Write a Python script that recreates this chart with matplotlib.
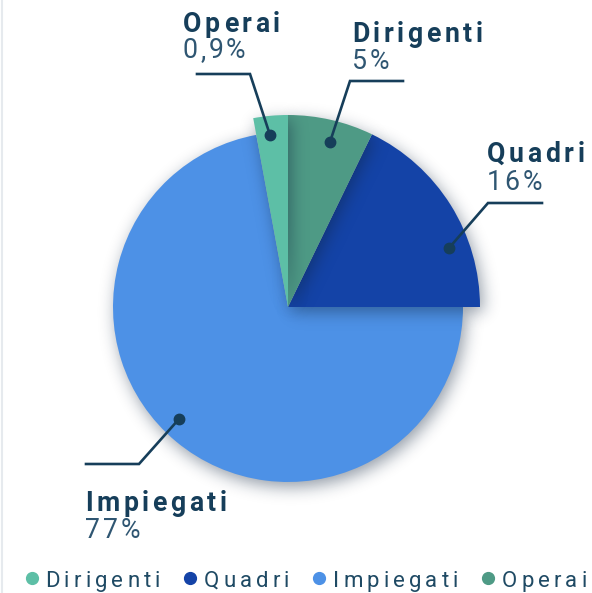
import matplotlib
matplotlib.use("Agg")
import numpy as np
import matplotlib.pyplot as plt
from matplotlib.font_manager import FontProperties, findfont, get_font

# Dati (etichette e quote come scritte nel grafico)
categorie = ["Dirigenti", "Quadri", "Impiegati", "Operai"]
etichette_pct = ["5%", "16%", "77%", "0,9%"]
# ampiezza delle fette (in %, senso orario dall'alto)
quota_fetta = [7.2, 17.8, 72.1, 2.9]

colori_fette = ["#4e9a85", "#1443a7", "#4d91e6", "#5dbfa6"]
colori_legenda = ["#5dbfa6", "#1443a7", "#4d91e6", "#4e9a85"]
raggi = [192, 192, 175, 192]

W, H, DPI = 592, 593, 100
FONT = "Roboto"
NAVY = "#163e5a"
TXT_PCT = "#2f5672"
TXT_LEG = "#1f4a64"

fig = plt.figure(figsize=(W / DPI, H / DPI), dpi=DPI)
fig.patch.set_facecolor("white")
ax = fig.add_axes([0, 0, 1, 1])


def iy(y):
    """coordinate y dell'immagine (dall'alto) -> coordinate dati (dal basso)"""
    return H - y


def testo_spaziato(x, y, s, size, weight, color, track):
    """matplotlib non ha il letter-spacing: metto un carattere alla volta"""
    prop = FontProperties(family=FONT, weight=weight, size=size)
    font = get_font(findfont(prop))
    font.set_size(size, DPI)
    pen = x
    for ch in s:
        g = font.load_char(ord(ch))
        if ch != " ":
            ax.text(pen, y, ch, fontproperties=prop,
                    color=color, ha="left", va="baseline", zorder=30)
        pen += g.linearHoriAdvance / 65536 + track
    return pen - track


# Torta
centro = (288, iy(307))
wedges, _ = ax.pie(quota_fetta, colors=colori_fette, startangle=90,
                   counterclock=False, center=centro, radius=192,
                   wedgeprops=dict(linewidth=0))
for w, r in zip(wedges, raggi):
    w.set_radius(r)

# Ombre sfumate: ogni fetta proietta un'ombra su quello che sta sotto
yy, xx = np.mgrid[0:H, 0:W] + 0.5


def maschera(w, dx, dy):
    cx, cy = w.center
    px = xx - cx - dx
    py = yy - cy - dy
    ang = np.degrees(np.arctan2(py, px)) % 360
    dentro = np.hypot(px, py) <= w.r
    return (dentro & (((ang - w.theta1) % 360) <= (w.theta2 - w.theta1))).astype(float)


def sfoca(a, s):
    n = int(3 * s)
    k = np.exp(-0.5 * (np.arange(-n, n + 1) / s) ** 2)
    k /= k.sum()
    a = np.apply_along_axis(lambda r: np.convolve(r, k, mode="same"), 0, a)
    return np.apply_along_axis(lambda r: np.convolve(r, k, mode="same"), 1, a)


ordine = [2, 1, 0, 3]  # Impiegati sotto, poi Quadri, Dirigenti, Operai
for livello, i in enumerate(ordine):
    ombra = sfoca(maschera(wedges[i], 3, -5), 8)
    rgba = np.zeros((H, W, 4))
    rgba[..., 0], rgba[..., 1], rgba[..., 2] = 0.06, 0.14, 0.24
    rgba[..., 3] = 0.45 * ombra
    ax.imshow(rgba, extent=(0, W, 0, H), origin="lower", aspect="auto",
              interpolation="bilinear", zorder=2 + 2 * livello)
    wedges[i].set_zorder(3 + 2 * livello)

# Etichette con linee di richiamo (posizioni in pixel dell'immagine)
richiami = {
    "Operai": dict(x=183, nome=32, pct=58, linea=[(197, 74), (250, 74), (270, 135)]),
    "Dirigenti": dict(x=352, nome=42, pct=69, linea=[(403, 81), (350, 81), (330, 142)]),
    "Quadri": dict(x=487, nome=162, pct=190, linea=[(542, 203), (488, 203), (449, 248)]),
    "Impiegati": dict(x=85, nome=511, pct=538, linea=[(86, 464), (139, 464), (179, 419)]),
}
for nome, pct in zip(categorie, etichette_pct):
    c = richiami[nome]
    testo_spaziato(c["x"], iy(c["nome"]), nome, 19.2, "bold", NAVY, 3.6)
    testo_spaziato(c["x"], iy(c["pct"]), pct, 19.2, "normal", TXT_PCT, 2.6)
    xs = [p[0] for p in c["linea"]]
    ys = [iy(p[1]) for p in c["linea"]]
    ax.plot(xs, ys, color=NAVY, lw=1.9, solid_joinstyle="miter", zorder=20)
    ax.plot(xs[-1], ys[-1], "o", color=NAVY, ms=7.5, zorder=21)

# Legenda in basso
cx = 31.7
y_leg = iy(578)
for nome, col in zip(categorie, colori_legenda):
    ax.plot(cx, y_leg, "o", color=col, ms=8.5, zorder=25)
    fine = testo_spaziato(cx + 13.5, iy(586.8), nome, 16.0, "regular", TXT_LEG, 4.1)
    cx = fine + 30

# bordo sottile della scheda a sinistra
ax.plot([1.5, 1.5], [0, H], color="#e6eaee", lw=1.5, zorder=1)

ax.set_xlim(0, W)
ax.set_ylim(0, H)
ax.axis("off")

fig.savefig("out.png", dpi=DPI, facecolor="white")
